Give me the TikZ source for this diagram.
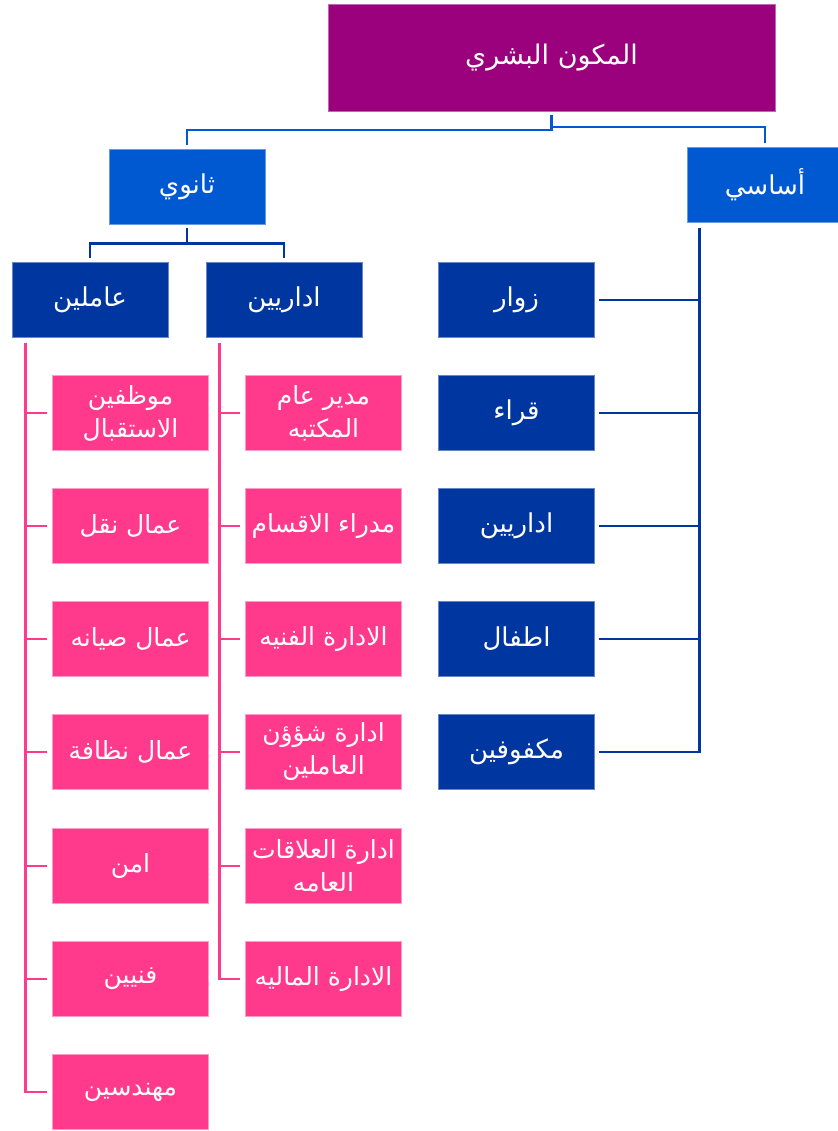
\documentclass[tikz,border=0pt]{standalone}
\usepackage{fontspec}
\newfontfamily\arabicfont[Script=Arabic]{DejaVu Sans}
\TeXXeTstate=1
\usetikzlibrary{calc}
\definecolor{rootc}{RGB}{155,0,125}
\definecolor{midblue}{RGB}{0,89,209}
\definecolor{darkblue}{RGB}{0,54,160}
\definecolor{pinkc}{RGB}{255,58,140}
\newcommand{\ar}[1]{\beginR #1\endR}
\begin{document}
\begin{tikzpicture}[x=1pt,y=-1pt,
  boxbase/.style={inner sep=0pt, text=white, align=center, font=\arabicfont\fontsize{26}{32}\selectfont, line width=0.6pt},
  rootbox/.style={boxbase, fill=rootc, draw=rootc!60!white, minimum width=447pt, minimum height=107pt, font=\arabicfont\fontsize{27}{32}\selectfont},
  midbox/.style={boxbase, fill=midblue, draw=midblue!60!white, minimum width=156pt, minimum height=75pt},
  darkbox/.style={boxbase, fill=darkblue, draw=darkblue!60!white, minimum width=156pt, minimum height=75pt},
  pinkbox/.style={boxbase, fill=pinkc, draw=pinkc!50!white, minimum width=156pt, minimum height=75pt, font=\arabicfont\fontsize{25}{33}\selectfont},
  midline/.style={draw=midblue, line width=2.2pt},
  darkline/.style={draw=darkblue, line width=2.6pt},
  pinkline/.style={draw=pinkc, line width=2.6pt}
]
\useasboundingbox (0,0) rectangle (837,1131);

\node[rootbox] (root) at (551.5,57.5) {\ar{المكون البشري}};
\node[midbox] (asasi) at (765,184.5) {\ar{أساسي}};
\node[midbox] (thanawi) at (187,186.5) {\ar{ثانوي}};
\node[darkbox] (amilin) at (90,299.5) {\ar{عاملين}};
\node[darkbox] (idariyin) at (284,299.5) {\ar{اداريين}};

% right column
\node[darkbox] (r1) at (516.5,300) {\ar{زوار}};
\node[darkbox] (r2) at (516.5,413) {\ar{قراء}};
\node[darkbox] (r3) at (516.5,526) {\ar{اداريين}};
\node[darkbox] (r4) at (516.5,639) {\ar{اطفال}};
\node[darkbox] (r5) at (516.5,752) {\ar{مكفوفين}};

% left pink column
\node[pinkbox] (a1) at (130.5,413) {\ar{موظفين}\\\ar{الاستقبال}};
\node[pinkbox] (a2) at (130.5,526) {\ar{عمال نقل}};
\node[pinkbox] (a3) at (130.5,639) {\ar{عمال صيانه}};
\node[pinkbox] (a4) at (130.5,752) {\ar{عمال نظافة}};
\node[pinkbox] (a5) at (130.5,866) {\ar{امن}};
\node[pinkbox] (a6) at (130.5,979) {\ar{فنيين}};
\node[pinkbox] (a7) at (130.5,1092) {\ar{مهندسين}};

% right pink column
\node[pinkbox] (b1) at (323.5,413) {\ar{مدير عام}\\\ar{المكتبه}};
\node[pinkbox] (b2) at (323.5,526) {\ar{مدراء الاقسام}};
\node[pinkbox] (b3) at (323.5,639) {\ar{الادارة الفنيه}};
\node[pinkbox] (b4) at (323.5,752) {\ar{ادارة شؤؤن}\\\ar{العاملين}};
\node[pinkbox] (b5) at (323.5,866) {\ar{ادارة العلاقات}\\\ar{العامه}};
\node[pinkbox] (b6) at (323.5,979) {\ar{الادارة الماليه}};

% root connectors
\draw[midline] ($(root.south)+(0,4)$) -- ++(0,15) -| ($(thanawi.north)+(0,-4)$);
\draw[midline] ($(root.south)+(0,16)$) -| ($(asasi.north)+(0,-4)$);

% thanawi connectors
\draw[darkline] ($(thanawi.south)+(0,4)$) -- ++(0,15) coordinate (tj);
\draw[darkline] ($(amilin.north)+(0,-4)$) |- (tj) -| ($(idariyin.north)+(0,-4)$);

% asasi connectors
\coordinate (av) at ($(asasi.south west)+(13,6)$);
\draw[darkline] (av) |- ($(r5.east)+(4,0)$);
\foreach \n in {r1,r2,r3,r4}{
  \draw[darkline] ($(\n.east)+(4,0)$) -- (\n.east -| av);
}

% amilin connectors
\coordinate (lv) at ($(amilin.south west)+(14,6)$);
\draw[pinkline] (lv) |- ($(a7.west)+(-5,0)$);
\foreach \n in {a1,a2,a3,a4,a5,a6}{
  \draw[pinkline] ($(\n.west)+(-5,0)$) -- (\n.west -| lv);
}

% idariyin connectors
\coordinate (rv) at ($(idariyin.south west)+(14,6)$);
\draw[pinkline] (rv) |- ($(b6.west)+(-5,0)$);
\foreach \n in {b1,b2,b3,b4,b5}{
  \draw[pinkline] ($(\n.west)+(-5,0)$) -- (\n.west -| rv);
}
\end{tikzpicture}
\end{document}
